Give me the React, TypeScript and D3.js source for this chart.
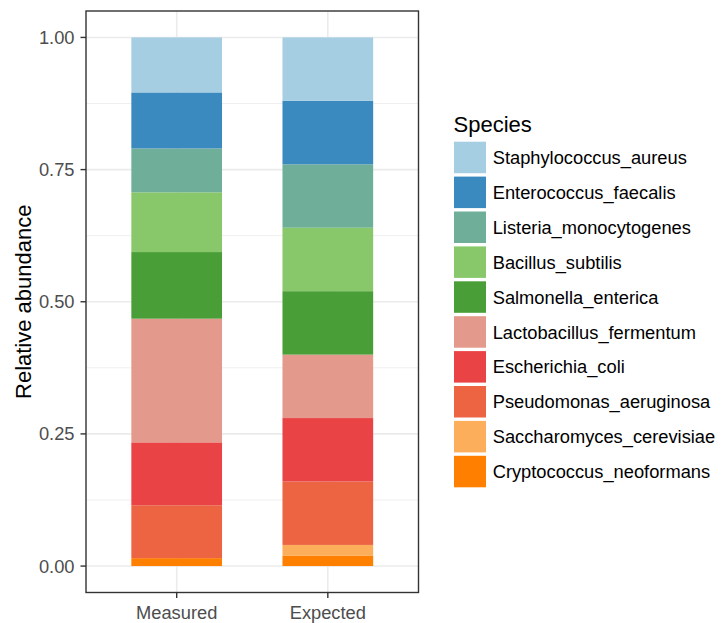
import React, { useEffect, useRef } from 'react';
import * as d3 from 'd3';

// species in legend order (top of stack first)
const species = [
  'Staphylococcus_aureus',
  'Enterococcus_faecalis',
  'Listeria_monocytogenes',
  'Bacillus_subtilis',
  'Salmonella_enterica',
  'Lactobacillus_fermentum',
  'Escherichia_coli',
  'Pseudomonas_aeruginosa',
  'Saccharomyces_cerevisiae',
  'Cryptococcus_neoformans',
];
const colors = [
  '#a6cee3', '#3a8abf', '#6faf9a', '#88c86a', '#4a9e38',
  '#e3998b', '#e94346', '#ed6443', '#fdae5a', '#ff7f00',
];
const samples = ['Measured', 'Expected'];
const measured = [0.104, 0.106, 0.083, 0.113, 0.126, 0.234, 0.119, 0.1, 0.0, 0.015];
const expected = [0.12, 0.12, 0.12, 0.12, 0.12, 0.12, 0.12, 0.12, 0.02, 0.02];
const yTicks = [0, 0.25, 0.5, 0.75, 1];
const yMinor = [0.125, 0.375, 0.625, 0.875];

const W = 724;
const H = 623;
const FONT = '"Liberation Sans", Arial, sans-serif';
const TXT = '18.3px';

export default function App() {
  const ref = useRef<SVGSVGElement>(null);

  useEffect(() => {
    const svg = d3.select(ref.current);
    svg.selectAll('*').remove();

    const left = 86, right = 418.5, top = 11, bottom = 592.5;

    const x = d3.scaleLinear().domain([0.4, 2.6]).range([left, right]);
    const y = d3.scaleLinear().domain([-0.05, 1.05]).range([bottom, top]);

    const rows = samples.map((s, i) => {
      const vals = i === 0 ? measured : expected;
      const r: any = { sample: s, pos: i + 1 };
      species.forEach((sp, j) => (r[sp] = vals[j]));
      return r;
    });

    // first species on top -> stack from last to first
    const stack = d3.stack().keys([...species].reverse());
    const series = stack(rows);

    const color = d3.scaleOrdinal<string, string>().domain(species).range(colors);

    const g = svg.append('g');

    // grid
    g.selectAll('.minor')
      .data(yMinor)
      .join('line')
      .attr('x1', left).attr('x2', right)
      .attr('y1', (d) => y(d)).attr('y2', (d) => y(d))
      .attr('stroke', '#ebebeb').attr('stroke-width', 0.8);
    g.selectAll('.major')
      .data(yTicks)
      .join('line')
      .attr('x1', left).attr('x2', right)
      .attr('y1', (d) => y(d)).attr('y2', (d) => y(d))
      .attr('stroke', '#ebebeb').attr('stroke-width', 1.6);
    g.selectAll('.xmajor')
      .data(rows)
      .join('line')
      .attr('x1', (d) => x(d.pos)).attr('x2', (d) => x(d.pos))
      .attr('y1', top).attr('y2', bottom)
      .attr('stroke', '#ebebeb').attr('stroke-width', 1.6);

    // bars
    const bw = x(1.3) - x(1);
    g.selectAll('.layer')
      .data(series)
      .join('g')
      .attr('fill', (d) => color(d.key))
      .selectAll('rect')
      .data((d) => d)
      .join('rect')
      .attr('x', (d: any) => x(d.data.pos) - bw)
      .attr('width', bw * 2)
      .attr('y', (d) => y(d[1]))
      .attr('height', (d) => y(d[0]) - y(d[1]));

    // panel border
    g.append('rect')
      .attr('x', left).attr('y', top)
      .attr('width', right - left).attr('height', bottom - top)
      .attr('fill', 'none').attr('stroke', '#333333').attr('stroke-width', 1.4);

    // y axis
    const yAxis = g.append('g');
    yAxis.selectAll('line')
      .data(yTicks)
      .join('line')
      .attr('x1', left - 5.5).attr('x2', left)
      .attr('y1', (d) => y(d)).attr('y2', (d) => y(d))
      .attr('stroke', '#333333').attr('stroke-width', 1.4);
    yAxis.selectAll('text')
      .data(yTicks)
      .join('text')
      .attr('x', left - 11.5)
      .attr('y', (d) => y(d))
      .attr('dy', '0.36em')
      .attr('text-anchor', 'end')
      .attr('fill', '#4d4d4d')
      .style('font-size', TXT)
      .style('font-family', FONT)
      .text((d) => d3.format('.2f')(d));

    // x axis
    const xAxis = g.append('g');
    xAxis.selectAll('line')
      .data(rows)
      .join('line')
      .attr('x1', (d) => x(d.pos)).attr('x2', (d) => x(d.pos))
      .attr('y1', bottom).attr('y2', bottom + 5.5)
      .attr('stroke', '#333333').attr('stroke-width', 1.4);
    xAxis.selectAll('text')
      .data(rows)
      .join('text')
      .attr('x', (d) => x(d.pos))
      .attr('y', 618.5)
      .attr('text-anchor', 'middle')
      .attr('fill', '#4d4d4d')
      .style('font-size', TXT)
      .style('font-family', FONT)
      .text((d) => d.sample);

    // y title
    g.append('text')
      .attr('transform', `translate(31, ${(top + bottom) / 2}) rotate(-90)`)
      .attr('text-anchor', 'middle')
      .style('font-size', '22px')
      .style('font-family', FONT)
      .text('Relative abundance');

    // legend
    const legend = g.append('g');
    legend.append('text')
      .attr('x', 453.5).attr('y', 131.7)
      .style('font-size', '22px')
      .style('font-family', FONT)
      .text('Species');

    const keyY = d3.scaleLinear().domain([0, 1]).range([141.7, 141.7 + 34.9]);
    const item = legend.selectAll('.item')
      .data(species)
      .join('g')
      .attr('transform', (d, i) => `translate(454, ${keyY(i)})`);
    item.append('rect')
      .attr('width', 32).attr('height', 31.5)
      .attr('fill', (d) => color(d));
    item.append('text')
      .attr('x', 38.7)
      .attr('y', 15.75)
      .attr('dy', '0.36em')
      .style('font-size', TXT)
      .style('font-family', FONT)
      .text((d) => d);
  }, []);

  return (
    <svg ref={ref} width={W} height={H} style={{ position: 'absolute', left: 0, top: 0, background: '#fff' }} />
  );
}
